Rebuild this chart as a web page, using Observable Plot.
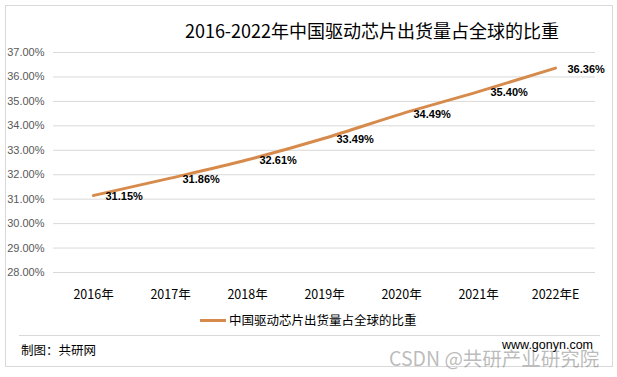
<!DOCTYPE html>
<html>
<head>
<meta charset="utf-8">
<script src="https://cdn.jsdelivr.net/npm/d3@7"></script>
<script src="https://cdn.jsdelivr.net/npm/@observablehq/plot@0.6"></script>
<style>
  html, body { margin: 0; padding: 0; background: #fff; }
  #wrap { position: relative; width: 617px; height: 377px; overflow: hidden; font-family: "Noto Sans CJK SC", "Noto Sans", sans-serif; }
  #wrap svg { position: absolute; left: 0; top: 0; }
  .abs { position: absolute; white-space: nowrap; }
  #frame { position: absolute; left: 5px; top: 5px; width: 606px; height: 360px; border: 1px solid #d9d9d9; }
  #sep { position: absolute; left: 19px; top: 335px; width: 581px; height: 1px; background: #d9d9d9; }
</style>
</head>
<body>
<div id="wrap">
  <div id="frame"></div>
  <div id="sep"></div>
</div>
<script>
const title = "2016-2022年中国驱动芯片出货量占全球的比重";
const seriesName = "中国驱动芯片出货量占全球的比重";
const years = ["2016年", "2017年", "2018年", "2019年", "2020年", "2021年", "2022年E"];
const shares = [31.15, 31.86, 32.61, 33.49, 34.49, 35.40, 36.36];
const yTicks = [28, 29, 30, 31, 32, 33, 34, 35, 36, 37];
const source = "制图：共研网";
const site = "www.gonyn.com";
const watermark = "CSDN @共研产业研究院";

const data = years.map((y, i) => ({year: y, v: shares[i]}));
const lineColor = "#D68B4D";

const chart = Plot.plot({
  width: 617,
  height: 377,
  marginTop: 52,
  marginBottom: 105,
  marginLeft: 53,
  marginRight: 22,
  style: {fontFamily: "'Noto Sans CJK SC', sans-serif", background: "transparent"},
  x: {type: "point", domain: years, padding: 0.5, label: null},
  y: {domain: [28, 37], label: null},
  marks: [
    Plot.gridY(yTicks, {stroke: "#d9d9d9", strokeOpacity: 1, strokeWidth: 1}),
    Plot.axisY(yTicks, {tickSize: 0, tickPadding: 9, tickFormat: d => d.toFixed(2) + "%", fill: "#595959", fontSize: 11, label: null, fontFamily: "'Liberation Sans', sans-serif"}),
    Plot.axisX({tickSize: 0, tickPadding: 18, fill: "#000", fontSize: 12.5, label: null}),
    Plot.line(data, {x: "year", y: "v", stroke: lineColor, strokeWidth: 3, curve: "monotone-x"}),
    Plot.text(data, {x: "year", y: "v", text: d => d.v.toFixed(2) + "%", textAnchor: "start", dx: 12, dy: 1, fontWeight: "bold", fontSize: 11, fill: "#000", fontFamily: "'Liberation Sans', sans-serif"})
  ]
});
const wrap = document.getElementById("wrap");
wrap.appendChild(chart);

function addText(txt, css) {
  const d = document.createElement("div");
  d.className = "abs";
  d.textContent = txt;
  Object.assign(d.style, css);
  wrap.appendChild(d);
  return d;
}
addText(title, {left: "372px", top: "18px", transform: "translateX(-50%)", fontSize: "18px", color: "#000", lineHeight: "24px"});
// legend
const lg = document.createElement("div");
lg.className = "abs";
Object.assign(lg.style, {left: "200px", top: "311px", display: "flex", alignItems: "center", fontSize: "12.5px", lineHeight: "18px", color: "#000"});
const sw = document.createElement("span");
Object.assign(sw.style, {display: "inline-block", width: "26px", height: "3px", background: lineColor, marginRight: "3px"});
lg.appendChild(sw);
const lt = document.createElement("span");
lt.textContent = seriesName;
lg.appendChild(lt);
wrap.appendChild(lg);
addText(source, {left: "21px", top: "341px", fontSize: "12.5px", lineHeight: "18px", color: "#000"});
addText(watermark, {left: "389px", top: "345px", fontSize: "19.5px", lineHeight: "26px", color: "rgba(120,120,120,0.5)"});
addText(site, {left: "502px", top: "337px", fontSize: "12.5px", lineHeight: "16px", color: "#000", fontFamily: "'Liberation Sans', sans-serif"});
</script>
</body>
</html>
